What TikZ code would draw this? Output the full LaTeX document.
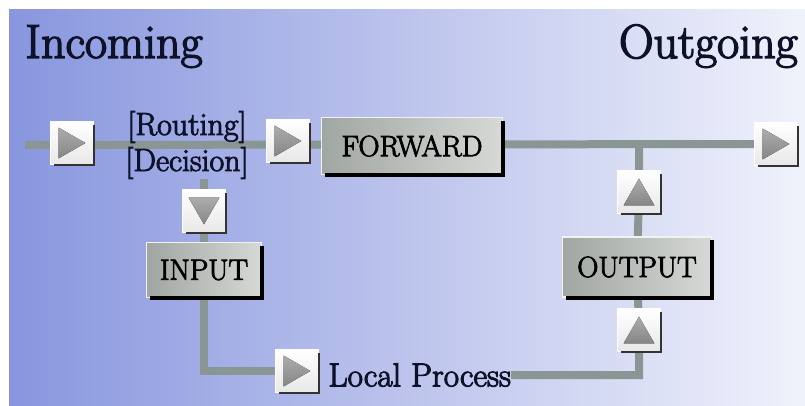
\documentclass[tikz,border=0pt]{standalone}
\usepackage{fontspec}
\newfontfamily\heavyrm{Latin Modern Roman}[FakeBold=3]
\usepackage{xcolor}
\definecolor{bgleft}{RGB}{136,150,222}
\definecolor{bgright}{RGB}{240,242,251}
\definecolor{pipegray}{RGB}{138,150,148}
\definecolor{inkblue}{RGB}{14,18,40}
\definecolor{boxdark}{RGB}{160,166,162}
\definecolor{boxlight}{RGB}{214,217,214}
\usepackage{tikz}
\usetikzlibrary{positioning,backgrounds}

\begin{document}
\begin{tikzpicture}[x=0.75pt, y=-0.75pt,
  pipe/.style={pipegray, line width=6pt},
  btn/.style={draw=white, line width=0.8pt, top color=white, bottom color=gray!18, minimum size=32pt, inner sep=0pt},
  stage/.style={draw=gray!10, line width=0.8pt, left color=boxdark, right color=boxlight, text=black, font=\heavyrm\fontsize{22}{24}\selectfont, inner sep=0pt},
  lbl/.style={text=inkblue, inner sep=0pt},
  ]
  \useasboundingbox (0,0) rectangle (805,406);
  \begin{scope}[on background layer]
    \fill[left color=bgleft, right color=bgright] (9,10) rectangle (805,406);
  \end{scope}

  % headings
  \node[lbl, anchor=base west, font=\heavyrm\fontsize{36}{40}\selectfont] (inc) at (25,58) {Incoming};
  \node[lbl, anchor=base east, font=\heavyrm\fontsize{36}{40}\selectfont] (outg) at (798,58) {Outgoing};

  % buttons
  \node[btn] (bin) at (72,143) {};
  \node[btn] (bfwd) at (288,141) {};
  \node[btn] (bout) at (776,144) {};
  \node[btn] (bdown) at (204,211) {};
  \node[btn] (bup1) at (639,192) {};
  \node[btn] (bup2) at (639,330) {};
  \node[btn] (bloc) at (297,371) {};

  % stages
  \node[stage, minimum width=136pt, minimum height=43pt] (fwd) at (412,146) {FORWARD};
  \node[stage, minimum width=86pt, minimum height=41pt] (inp) at (204,270) {INPUT};
  \node[stage, minimum width=112pt, minimum height=45pt] (outp) at (637,267) {OUTPUT};

  % labels
  \node[lbl, font=\heavyrm\fontsize{24}{26}\selectfont] (rout) at (187,127) {[Routing]};
  \node[lbl, font=\heavyrm\fontsize{24}{26}\selectfont] (dec) at (187,163) {[Decision]};
  \node[lbl, font=\heavyrm\fontsize{25}{28}\selectfont, right=7pt of bloc, yshift=-3pt] (lp) {Local Process};

  \coordinate (start) at (25,145);

  % shadows and triangles
  \foreach \n in {bin,bfwd,bout,bdown,bup1,bup2,bloc}
    \draw[black!80, line width=2pt] ([yshift=-3pt]\n.north east) -- (\n.south east) -- ([xshift=3pt]\n.south west);
  \foreach \n in {fwd,inp,outp}
    \draw[black, line width=3pt] ([yshift=-3pt]\n.north east) -- (\n.south east) -- ([xshift=3pt]\n.south west);
  \foreach \n/\a in {bin/0,bfwd/0,bout/0,bdown/-90,bup1/90,bup2/90,bloc/0}
    \fill[top color=gray!65, bottom color=gray!95, shift={(\n.center)}, rotate=\a] (-10pt,11.5pt) -- (10pt,0pt) -- (-10pt,-11.5pt) -- cycle;

  % pipes
  \begin{scope}[on background layer]
    \draw[pipe] (start) -- (bout);
    \draw[pipe] (dec.south -| bdown) -- (bdown) -- (inp) |- (bloc);
    \draw[pipe] (lp.east) -| (bup2) -- (outp) -- (bup1) -- (bup1 |- start);
  \end{scope}
\end{tikzpicture}
\end{document}
